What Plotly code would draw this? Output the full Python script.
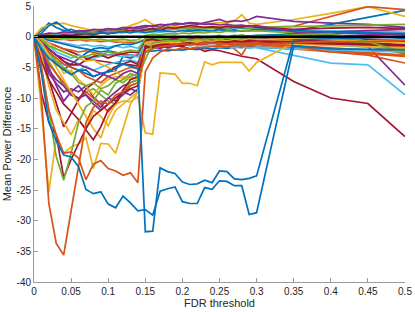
import plotly.graph_objects as go

fdr_threshold = [0, 0.01, 0.02, 0.03, 0.04, 0.05, 0.06, 0.07, 0.08, 0.09, 0.10, 0.11, 0.12, 0.13, 0.14,
                 0.15, 0.16, 0.17, 0.18, 0.19, 0.20, 0.21, 0.22, 0.23, 0.24, 0.25, 0.26, 0.27, 0.28, 0.29, 0.30,
                 0.35, 0.40, 0.45, 0.50]

x_ticks = [0, 0.05, 0.1, 0.15, 0.2, 0.25, 0.3, 0.35, 0.4, 0.45, 0.5]
x_tick_labels = ["0", "0.05", "0.1", "0.15", "0.2", "0.25", "0.3", "0.35", "0.4", "0.45", "0.5"]
y_ticks = [-40, -35, -30, -25, -20, -15, -10, -5, 0, 5]
y_tick_labels = ["-40", "-35", "-30", "-25", "-20", "-15", "-10", "-5", "0", "5"]

BL, OR, YE, PU, GR, LB, DR = "#0072BD", "#D95319", "#EDB120", "#7E2F8E", "#77AC30", "#4DBEEE", "#A2142F"

# ---- series (mean power difference per FDR threshold) ----
p1 = [0, 1.0, 2.2, 1.5, 1.0, 1.2, 0.8, 1.0, 0.9, 1.1, 0.8, 0.9, 1.2, 1.0, 1.3,
      1.1, 1.4, 1.2, 1.5, 1.3, 1.4, 1.2, 1.5, 1.3, 1.4, 1.2, 1.3, 1.5, 1.4, 1.3, 1.5,
      1.0, 2.0, 3.2, 4.3]
p2 = [0, 1.4, 1.9, 2.1, 2.2, 1.8, 1.5, 1.3, 1.0, 1.2, 0.9, 1.0, 1.3, 1.8, 2.2,
      2.8, 2.0, 1.8, 1.5, 1.7, 1.6, 1.8, 2.2, 2.0, 2.1, 2.3, 2.2, 2.5, 3.6, 2.2, 2.0,
      2.8, 3.8, 4.9, 3.3]
p3 = [0, 0.3, 0.5, 0.4, 0.6, 0.5, 0.7, 0.6, 0.8, 0.7, 0.9, 0.8, 1.0, 0.9, 1.1,
      1.2, 1.0, 1.3, 1.4, 1.2, 1.5, 1.4, 1.6, 1.5, 1.7, 1.6, 1.5, 1.8, 1.7, 1.6, 1.5,
      1.7, 3.3, 4.9, 4.4]
p4 = [0, 0.2, 0.4, 0.3, 0.5, 0.6, 0.5, 0.8, 0.7, 0.9, 1.0, 1.2, 1.1, 1.5, 1.3,
      1.6, 1.8, 1.5, 2.0, 1.9, 2.1, 2.2, 2.0, 2.3, 2.5, 2.8, 2.4, 2.6, 2.5, 2.8, 3.3,
      2.5, 2.2, 2.0, 1.5]
p5 = [0, 0.1, 0.3, 0.5, 0.4, 0.6, 0.5, 0.7, 0.8, 0.6, 0.9, 0.8, 1.0, 0.9, 1.1,
      1.0, 1.2, 1.1, 1.3, 1.2, 1.4, 1.3, 1.2, 1.4, 1.3, 1.5, 1.4, 1.6, 1.5, 1.4, 1.5,
      1.6, 1.8, 1.9, 2.0]
p6 = [0, 0.2, 0.1, 0.3, 0.2, 0.4, 0.3, 0.5, 0.4, 0.6, 0.5, 0.7, 0.6, 0.8, 0.7,
      0.6, 0.8, 0.7, 0.9, 0.8, 1.0, 0.9, 0.8, 1.0, 0.9, 1.1, 1.0, 0.9, 1.0, 1.1, 1.0,
      0.8, 0.9, 1.0, 0.7]
p7 = [0, 0.1, 0.2, 0.1, 0.3, 0.2, 0.4, 0.5, 0.3, 0.6, 0.5, 0.7, 0.8, 1.0, 0.9,
      1.1, 1.3, 1.0, 1.5, 1.4, 1.6, 1.8, 1.7, 1.5, 1.6, 1.4, 1.7, 1.5, 1.6, 1.8, 1.5,
      1.2, 1.4, 1.5, 1.3]
p8 = [0, 0.5, 1.8, 2.4, 1.5, 0.8, 0.5, 0.6, 0.4, 0.7, 0.5, 0.6, 0.8, 0.6, 0.9,
      0.7, 0.8, 1.0, 0.9, 0.8, 1.0, 0.9, 1.1, 1.0, 0.9, 1.2, 1.0, 1.1, 0.9, 1.0, 1.2,
      1.0, 0.8, 0.6, 0.5]
p9 = [0, -0.2, -0.3, -0.5, -0.4, -0.6, -0.5, -0.7, -0.6, -0.8, -0.7, -0.9, -0.8, -1.0, -0.9,
      -0.4, -0.5, -0.6, -0.5, -0.7, -0.6, -0.8, -0.7, -0.9, -0.8, -1.0, -0.9, -1.1, -1.0, -1.2, -1.1,
      -1.5, -1.8, -2.2, -2.5]
p10 = [0, -0.1, -0.3, -0.2, -0.4, -0.3, -0.5, -0.4, -0.6, -0.5, -0.7, -0.6, -0.8, -0.7, -0.9,
       -0.3, -0.4, -0.2, -0.3, -0.5, -0.4, -0.6, -0.5, -0.7, -0.6, -0.8, -0.7, -0.9, -0.8, -1.0, -0.9,
       -1.2, -1.5, -1.8, -2.0]
p11 = [0, 0.0, -0.2, -0.1, -0.3, -0.2, -0.4, -0.3, -0.5, -0.4, -0.6, -0.5, -0.4, -0.6, -0.5,
       0.2, 0.4, 0.3, 0.5, 0.4, 0.6, 0.5, 0.7, 0.6, 0.8, 0.7, 0.9, 0.8, 1.0, 0.9, 1.0,
       0.6, 0.3, -0.5, -2.5]
p12 = [0, 0.3, 0.6, 0.5, 0.8, 0.7, 1.0, 0.9, 1.2, 1.1, 1.3, 1.2, 1.5, 1.4, 1.6,
       1.8, 1.7, 2.0, 1.9, 2.2, 2.1, 2.3, 2.2, 2.0, 2.1, 1.9, 2.0, 1.8, 1.9, 1.7, 1.8,
       0.8, 0.0, -1.6, -7.9]
p13 = [0, -0.2, -0.5, -0.8, -1.0, -1.2, -1.5, -1.3, -1.6, -1.4, -1.7, -1.5, -1.8, -1.6, -1.9,
       -0.5, -0.8, -1.0, -1.2, -1.1, -1.3, -1.2, -1.4, -1.3, -1.5, -1.4, -1.6, -1.5, -1.7, -1.6, -1.8,
       -3.0, -4.3, -4.6, -9.5]
p14 = [0, -0.5, -1.0, -1.5, -2.0, -2.5, -3.0, -3.5, -3.8, -4.0, -4.2, -4.3, -4.5, -4.6, -4.8,
       -2.2, -1.5, -1.4, -1.8, -1.5, -1.6, -2.0, -1.8, -2.4, -2.1, -2.3, -2.6, -3.0, -3.2, -3.4, -3.6,
       -7.3, -10.0, -10.9, -16.3]
p15 = [0, -0.3, -0.6, -1.0, -1.2, -1.5, -1.8, -2.0, -2.2, -2.5, -2.3, -2.6, -2.8, -3.0, -3.2,
       -2.5, -2.4, -2.2, -2.3, -2.1, -2.2, -2.0, -2.1, -1.9, -2.0, -1.8, -1.9, -1.7, -1.8, -1.6, -1.7,
       -2.0, -2.1, -2.2, -2.2]
p16 = [0, -0.5, -1.0, -1.5, -2.0, -2.2, -2.5, -2.3, -2.6, -2.8, -3.0, -2.7, -2.9, -3.1, -3.0,
       -0.8, -0.6, -0.7, -0.5, -0.6, -0.4, -0.5, -0.3, -0.4, -0.6, -0.8, -0.9, -1.2, -1.5, -1.4, -1.6,
       -2.0, -2.5, -2.8, -3.2]

c1 = [0, -3, -6, -7.6, -9, -8.5, -9, -8, -9.8, -11, -10, -9, -8, -7.5, -7,
      -1.5, -1.2, -1.4, -1.1, -1.0, -1.2, -1.0, -0.9, -1.1, -0.8, -0.9, -0.7, -0.8, -0.6, -0.7, -0.6,
      -0.5, -0.5, -0.6, -0.8]
c2 = [0, -2, -5, -8, -10.5, -9, -8, -9.5, -11, -12, -11, -10, -9, -9.5, -8.5,
      -1.0, -0.8, -0.9, -0.7, -0.6, -0.8, -0.5, -0.6, -0.4, -0.5, -0.3, -0.4, -0.3, -0.2, -0.3, -0.2,
      0.5, 0.8, 1.0, 1.2]
c3 = [0, -1.5, -4, -6, -8, -9.5, -10, -9, -8.5, -9.5, -10.5, -11, -9, -7.5, -7,
      -1.2, -1.0, -0.8, -0.9, -0.7, -0.8, -0.6, -0.7, -0.5, -0.6, -0.4, -0.5, -0.3, -0.4, -0.2, -0.3,
      0.2, 0.4, -0.5, -2.4]
c4 = [0, -2, -4.5, -6, -7.5, -9, -10.3, -9, -10, -11, -12.2, -11, -9, -8, -7.5,
      -0.8, -0.6, -0.8, -0.5, -0.4, -0.6, -0.5, -0.3, -0.4, -0.2, -0.8, -1.0, -2.0, -3.0, -1.0, -0.6,
      -0.5, -1.0, -1.5, -2.8]
c5 = [0, -1, -3, -4.5, -5.4, -4.5, -3.5, -2.7, -2.0, -1.8, -2.0, -1.5, -1.2, -1.3, -1.0,
      -0.5, -0.4, -0.6, -0.3, -0.5, -0.2, -0.4, -0.3, -0.1, -0.2, 0.1, -0.1, 0.2, 0.0, 0.1, 0.2,
      0.4, 0.6, 0.5, 0.3]
c6 = [0, -1.5, -3, -4, -4.5, -5, -5.5, -4.8, -5.5, -5, -4.5, -4.2, -4, -3.8, -4.2,
      -1.0, -1.2, -0.9, -1.1, -0.8, -1.0, -0.7, -0.9, -0.6, -0.8, -0.5, -0.7, -0.6, -0.8, -0.5, -0.7,
      -0.9, -1.3, -1.6, -2.0]
c7 = [0, -3, -7, -11, -14.7, -12.5, -10.3, -8.5, -7.6, -6.5, -5.5, -4.9, -4.5, -4.0, -4.5,
      -1.0, -0.8, -1.0, -0.7, -0.9, -0.6, -0.8, -0.5, -0.7, -0.4, -0.6, -0.3, -0.5, -0.4, -0.2, -0.3,
      -0.5, -0.8, -1.0, -1.3]
c8 = [0, -0.5, -2, -4, -6, -5.5, -7, -8, -9.5, -8, -7, -6.5, -6.8, -6.5, -7,
      -1.5, -1.3, -1.6, -1.2, -1.4, -1.1, -1.3, -1.0, -1.2, -0.9, -1.1, -0.8, -1.0, -0.7, -0.9, -0.6,
      -0.8, -1.1, -1.4, -1.7]
c9 = [0, -2.5, -5.5, -7, -8, -9.5, -10, -9.5, -10.5, -11.5, -10, -10.5, -9.5, -8.5, -9,
      -2.0, -1.7, -1.9, -1.5, -1.6, -1.3, -1.4, -1.1, -1.2, -0.9, -1.0, -0.7, -0.8, -0.5, -0.6, -0.4,
      -0.2, 0.0, 0.3, 0.5]
c10 = [0, -1, -2.5, -4, -5, -6, -7.5, -8, -7.5, -8.5, -8, -7, -7.5, -6.5, -6,
       -1.0, -0.7, -0.9, -0.6, -0.8, -0.5, -0.7, -0.4, -0.6, -0.3, -0.5, -0.2, -0.4, -0.1, -0.3, 0.0,
       0.2, -0.3, -1.0, -2.2]
c11 = [0, -1, -2, -3, -4, -5, -5.5, -6, -6.5, -6, -5.7, -5.5, -3.2, -3.5, -3.0,
       -0.5, -0.3, -0.6, -0.4, -0.2, -0.5, -0.3, -0.1, -0.4, -0.2, 0.0, -0.3, -0.1, 0.1, -0.2, 0.0,
       0.3, 0.2, 0.0, -0.3]
c12 = [0, -1, -2.5, -3.5, -4.5, -5, -5.5, -6.5, -7, -7.5, -6.5, -6, -5.5, -5, -5.2,
       -0.8, -0.6, -0.9, -0.7, -1.0, -0.8, -1.1, -0.9, -1.2, -1.0, -1.3, -1.1, -1.4, -1.2, -1.5, -1.3,
       -1.8, -2.3, -2.6, -3.0]
c13 = [0, -0.5, -1.5, -2.5, -3, -3.5, -3.0, -3.3, -3.5, -3.2, -3.0, -3.1, -3.2, -3.0, -3.3,
       -1.2, -1.0, -1.3, -1.1, -1.4, -1.2, -1.5, -1.3, -1.6, -1.4, -1.7, -1.5, -1.8, -1.6, -1.9, -1.7,
       -2.0, -2.2, -2.3, -2.5]
c14 = [0, -0.8, -2, -3, -4, -4.6, -4.6, -3.8, -3.2, -3.0, -3.5, -3.0, -2.8, -2.5, -2.6,
       -0.6, -0.4, -0.7, -0.5, -0.3, -0.6, -0.4, -0.2, -0.5, -0.3, -0.1, -0.4, -0.2, 0.0, -0.3, -0.1,
       0.0, -0.2, -0.4, -0.6]
c15 = [0, -0.3, -1, -2, -2.5, -3, -3.5, -4, -3.8, -4.5, -5, -5.8, -6.5, -7, -6.5,
       -1.0, -0.8, -1.1, -0.9, -0.7, -1.0, -0.8, -0.6, -0.9, -0.7, -0.5, -0.8, -0.6, -0.4, -0.7, -0.5,
       -0.8, -1.2, -1.6, -2.0]
c16 = [0, -1, -2, -3, -3.5, -4, -4.5, -5, -5.5, -6, -6.5, -7, -6, -5.5, -6,
       -1.8, -1.5, -1.7, -1.3, -1.5, -1.1, -1.3, -0.9, -1.1, -0.7, -0.9, -0.5, -0.7, -0.3, -0.5, -0.2,
       0.0, 0.2, 0.1, -0.1]
c17 = [0, -0.5, -1.5, -2, -2.5, -3.0, -3.5, -3.2, -2.8, -3.0, -2.5, -2.7, -2.5, -2.2, -2.4,
       -0.3, -0.1, -0.4, -0.2, 0.0, -0.3, -0.1, 0.1, -0.2, 0.0, 0.2, -0.1, 0.1, 0.3, 0.0, 0.2,
       0.1, -0.4, -1.2, -2.5]

deep_y1 = [0, -12, -25.3, -16.5, -19.0, -18.0, -17.5, -16.5, -21.5, -17.4, -17.5, -19.0, -15.0, -11.0, -9.0,
           -2.2, -1.8, -1.5, -1.4, -1.3, -1.2, -1.3, -1.1, -1.0, -1.0, -1.1, -1.0, -0.9, -1.0, -0.8, -0.9,
           -1.0, -1.2, -1.5, -1.8]
deep_y2 = [0, -3, -8, -12, -14, -16, -13.5, -15, -12, -13, -14.5, -12, -11, -10, -9,
           -1.5, -1.2, -1.0, -1.1, -0.9, -1.0, -0.8, -0.9, -0.7, -0.8, -0.6, -0.7, -0.5, -0.6, -0.4, -0.5,
           -0.3, -0.5, -0.8, -1.0]
deep_y3 = [0, -1, -3, -5, -7, -9, -11, -13, -15, -16.5, -13, -11, -10.5, -10.6, -9.8,
           -15.7, -15.9, -5.9, -6.0, -6.1, -7.6, -7.6, -8.0, -4.1, -4.6, -4.2, -4.2, -4.2, -4.2, -5.6, -4.2,
           -1.0, -0.8, -0.6, -0.5]
deep_r1 = [0, -9.2, -13.9, -16.0, -23.0, -20.0, -17.5, -15.0, -13.0, -12.0, -11.0, -10.0, -9.0, -8.5, -8.0,
           -1.5, -1.8, -1.5, -1.4, -1.3, -1.5, -1.2, -1.2, -1.0, -1.0, -1.1, -0.9, -0.9, -1.0, -0.8, -1.0,
           -1.0, -1.2, -1.3, -1.5]
deep_r2 = [0, -4, -7, -9, -11, -12.2, -13.5, -15.2, -16.8, -14.7, -11.9, -10.8, -8.7, -7.0, -6.5,
           -1.8, -1.5, -1.3, -1.2, -1.4, -1.1, -1.0, -1.2, -0.9, -1.0, -0.8, -0.9, -0.7, -0.8, -0.6, -0.7,
           -0.8, -1.0, -1.2, -1.4]
deep_g1 = [0, -5, -12, -19.6, -23.4, -19.0, -14.0, -11.4, -10.5, -8.7, -9.5, -7.6, -7.0, -6.0, -6.5,
           -3.8, -1.0, -0.8, -0.6, -0.7, -0.5, -0.6, -0.4, -0.5, -0.3, -0.4, -0.2, -0.3, -0.2, -0.1, -0.2,
           0.3, 0.5, -0.8, -2.6]
deep_o1 = [0, -10, -27.2, -33.7, -35.6, -28.3, -20.6, -14.0, -11.5, -10.5, -11.0, -9.5, -9.0, -8.0, -7.5,
           -2.5, -2.0, -1.6, -1.5, -1.4, -1.2, -1.3, -1.2, -1.0, -1.1, -1.0, -1.2, -1.0, -1.1, -1.0, -1.0,
           -1.5, -2.5, -3.0, -4.3]
deep_o2 = [0, -5, -12, -16, -19.0, -18.8, -19.8, -23.3, -20.8, -20.2, -21.5, -21.9, -22.6, -22.2, -23.8,
           -5.7, -3.5, -2.5, -2.0, -2.2, -1.8, -2.0, -1.7, -1.8, -1.6, -1.5, -1.7, -1.4, -1.5, -1.3, -1.2,
           -1.0, -0.8, -0.8, -0.6]
deep_b1 = [0, -6, -14, -17, -19.3, -19.6, -21.2, -24.9, -25.6, -25.3, -27.3, -27.9, -26.0, -27.1, -28.4,
           -28.2, -29.1, -25.2, -24.8, -24.5, -26.9, -27.2, -27.2, -24.6, -24.9, -23.5, -23.6, -24.3, -24.3, -29.0, -28.7,
           -1.5, -2.0, -2.1, -2.1]
deep_b2 = [0, -2, -3.5, -4.5, -5.4, -6.2, -5.5, -5.4, -6.5, -6.0, -5.7, -5.2, -4.5, -4.8, -5.2,
           -31.8, -31.7, -21.4, -22.0, -22.3, -23.7, -24.1, -24.0, -23.4, -23.8, -21.9, -22.0, -23.2, -23.3, -23.1, -22.7,
           -0.5, -0.3, -0.2, 0.0]

zero_line = [0, 0]
zero_x = [0, 0.5]

series = [
    (p1, BL), (p2, YE), (p3, OR), (p4, PU), (p5, GR), (p6, LB), (p7, DR), (p8, BL),
    (p9, OR), (p10, YE), (p11, GR), (p12, PU), (p13, LB), (p14, DR), (p15, BL), (p16, OR),
    (c1, PU), (c2, PU), (c3, GR), (c4, OR), (c5, BL), (c6, LB), (c7, DR), (c8, YE),
    (c9, PU), (c10, GR), (c11, BL), (c12, OR), (c13, LB), (c14, DR), (c15, YE), (c16, PU), (c17, GR),
    (deep_y1, YE), (deep_y2, YE), (deep_y3, YE), (deep_r1, DR), (deep_r2, DR), (deep_g1, GR),
    (deep_o1, OR), (deep_o2, OR), (deep_b1, BL), (deep_b2, BL),
]

for vals, _ in series:
    if len(vals) != len(fdr_threshold):
        raise ValueError(f"length mismatch: {len(vals)}")

fig = go.Figure()
for vals, col in series:
    fig.add_trace(go.Scatter(x=fdr_threshold, y=vals, mode="lines",
                             line=dict(color=col, width=1.7), hoverinfo="skip"))
fig.add_trace(go.Scatter(x=zero_x, y=zero_line, mode="lines",
                         line=dict(color="black", width=2.5), hoverinfo="skip"))

axis_col = "#9a9a9a"
fig.update_layout(
    width=415, height=312,
    margin=dict(l=34, r=10, t=6, b=30),
    plot_bgcolor="white", paper_bgcolor="white",
    showlegend=False,
    font=dict(family="Liberation Sans, Arial, sans-serif", size=10, color="#262626"),
)
fig.update_xaxes(range=[0, 0.5], tickvals=x_ticks, ticktext=x_tick_labels,
                 ticks="inside", ticklen=4, tickcolor=axis_col, showline=True,
                 linecolor=axis_col, linewidth=1, showgrid=False, zeroline=False,
                 automargin=False, title=dict(text="FDR threshold", standoff=2,
                                              font=dict(size=11, color="#262626")))
fig.update_yaxes(range=[-40, 5], tickvals=y_ticks, ticktext=y_tick_labels,
                 ticks="inside", ticklen=4, tickcolor=axis_col, showline=True,
                 linecolor=axis_col, linewidth=1, showgrid=False, zeroline=False,
                 automargin=False, title=dict(text="Mean Power Difference", standoff=2,
                                              font=dict(size=11, color="#262626")))

fig.write_html("out.html", config={"displayModeBar": False},
               post_script="document.body.style.margin='0';document.body.style.padding='0';")
